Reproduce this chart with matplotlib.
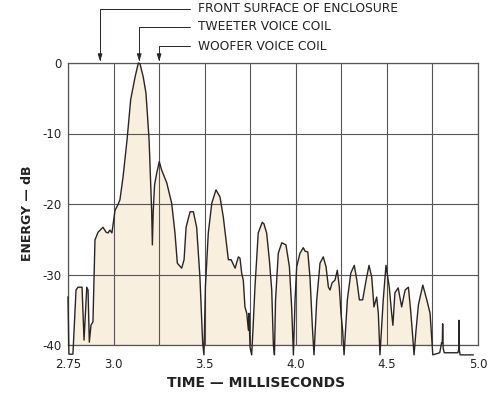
import matplotlib
matplotlib.use("Agg")
import matplotlib.pyplot as plt
import numpy as np

# ---- data ----
time_ms = [2.750, 2.755, 2.777, 2.794, 2.805, 2.827, 2.838, 2.853, 2.860, 2.867, 2.876,
           2.887, 2.898, 2.915, 2.942, 2.959, 2.970, 2.980, 2.991, 3.008, 3.024,
           3.035, 3.052, 3.074, 3.094, 3.118, 3.136, 3.145, 3.163, 3.178, 3.195, 3.204,
           3.209, 3.213, 3.218, 3.225, 3.237, 3.251, 3.264, 3.292, 3.319, 3.337, 3.350,
           3.374, 3.387, 3.398, 3.420, 3.438, 3.456, 3.474, 3.489, 3.496, 3.504, 3.520,
           3.539, 3.562, 3.584, 3.602, 3.630, 3.645, 3.667, 3.685, 3.694, 3.703, 3.712,
           3.721, 3.731, 3.740, 3.743, 3.749, 3.758, 3.765, 3.776, 3.794, 3.816, 3.825,
           3.840, 3.855, 3.868, 3.877, 3.883, 3.889, 3.904, 3.923, 3.946, 3.965, 3.978,
           3.987, 3.996, 4.005, 4.023, 4.041, 4.051, 4.066, 4.078, 4.091, 4.100, 4.115,
           4.133, 4.151, 4.166, 4.179, 4.188, 4.199, 4.215, 4.228, 4.239, 4.248, 4.257,
           4.265, 4.283, 4.302, 4.321, 4.335, 4.349, 4.367, 4.386, 4.402, 4.417, 4.429,
           4.444, 4.453, 4.462, 4.480, 4.495, 4.513, 4.526, 4.533, 4.544, 4.562, 4.581,
           4.600, 4.618, 4.630, 4.642, 4.649, 4.660, 4.673, 4.697, 4.719, 4.737, 4.752,
           4.790, 4.800, 4.804, 4.806, 4.809, 4.815, 4.890, 4.895, 4.896, 4.898, 4.902,
           4.973]
energy_db = [-33.2, -41.3, -41.3, -32.2, -31.8, -31.8, -39.3, -31.8, -32.2, -39.6, -37.2,
             -36.7, -25.1, -24.0, -23.3, -24.0, -24.1, -23.7, -24.1, -20.9, -20.1,
             -19.4, -16.2, -10.9, -5.2, -2.0, 0.0, -0.1, -2.0, -4.3, -10.9, -17.6,
             -20.9, -25.8, -20.9, -17.3, -15.6, -14.0, -15.2, -17.0, -19.9, -24.1, -28.4,
             -29.1, -27.9, -23.3, -21.1, -21.1, -23.3, -30.4, -39.7, -41.4, -31.8, -24.1,
             -19.9, -18.0, -19.0, -21.8, -27.9, -27.9, -29.1, -27.5, -27.7, -29.8, -30.8,
             -34.6, -35.5, -37.9, -35.5, -40.3, -41.4, -37.9, -31.8, -24.1, -22.6, -22.8,
             -24.1, -27.9, -32.2, -40.0, -41.4, -33.6, -27.0, -25.5, -25.8, -28.9, -35.0,
             -41.4, -33.6, -28.9, -27.0, -26.2, -26.7, -26.8, -30.4, -37.4, -41.4, -33.6,
             -28.4, -27.5, -28.9, -31.8, -32.2, -31.2, -30.8, -29.4, -31.8, -35.5, -37.9,
             -41.4, -33.6, -29.8, -28.7, -30.8, -33.6, -33.6, -30.8, -28.7, -30.4, -34.6,
             -33.2, -35.5, -41.4, -33.6, -28.7, -31.8, -35.5, -37.2, -32.6, -31.9, -34.6,
             -32.2, -31.8, -35.0, -38.9, -41.4, -37.9, -34.3, -31.5, -33.6, -35.5, -41.4,
             -41.1, -39.7, -39.7, -37.0, -40.5, -41.1, -41.1, -40.5, -36.5, -40.8, -41.4,
             -41.4]

x_grid = [2.75, 3.0, 3.25, 3.5, 3.75, 4.0, 4.25, 4.5, 4.75, 5.0]
x_labels = ["2.75", "3.0", "", "3.5", "", "4.0", "", "4.5", "", "5.0"]
y_ticks = [0, -10, -20, -30, -40]
y_labels = ["0", "-10", "-20", "-30", "-40"]

markers = ["FRONT SURFACE OF ENCLOSURE", "TWEETER VOICE COIL", "WOOFER VOICE COIL"]
marker_times = [2.926, 3.141, 3.25]

W, H = 499, 393
fig = plt.figure(figsize=(W / 100, H / 100), dpi=100)
ax = fig.add_axes([68 / W, 1 - 345 / H, 410 / W, 282 / H])

ink = "#2b2424"
ax.fill_between(time_ms, energy_db, -41.5, color="#f9efdf", lw=0, zorder=1)
ax.plot(time_ms, energy_db, color=ink, lw=1.0, zorder=3, clip_on=False)

ax.set_xlim(2.75, 5.0)
ax.set_ylim(-40, 0)
ax.set_xticks(x_grid)
ax.set_xticklabels(x_labels, fontsize=8.5, color="#222")
ax.set_yticks(y_ticks)
ax.set_yticklabels(y_labels, fontsize=8.5, color="#222")
ax.tick_params(axis="x", length=0, pad=9.5)
ax.tick_params(axis="y", length=0, pad=4.5)
ax.grid(True, color="#555", lw=0.8, zorder=2)
ax.set_axisbelow(False)
for s in ax.spines.values():
    s.set_color("#555")
    s.set_linewidth(0.9)

fig.text(28 / W, 1 - 213 / H, "ENERGY — dB", rotation=90, ha="center", va="center",
         fontsize=9, fontweight="bold", color="#222")
fig.text(256 / W, 1 - 383 / H, "TIME — MILLISECONDS", ha="center", va="center",
         fontsize=10, fontweight="bold", color="#222")

text_y = [9, 27, 46]
for label, t, ty in zip(markers, marker_times, text_y):
    ax.annotate(label, xy=(t, 0), xycoords="data",
                xytext=(198 / W, 1 - ty / H), textcoords="figure fraction",
                ha="left", va="center", fontsize=8.8, color="#222",
                arrowprops=dict(arrowstyle="-|>,head_length=0.5,head_width=0.15",
                                connectionstyle="angle,angleA=0,angleB=90,rad=0",
                                color=ink, lw=0.7, shrinkA=4, shrinkB=1,
                                relpos=(0, 0.5)),
                annotation_clip=False)

fig.savefig("out.png", dpi=100, facecolor="white")
